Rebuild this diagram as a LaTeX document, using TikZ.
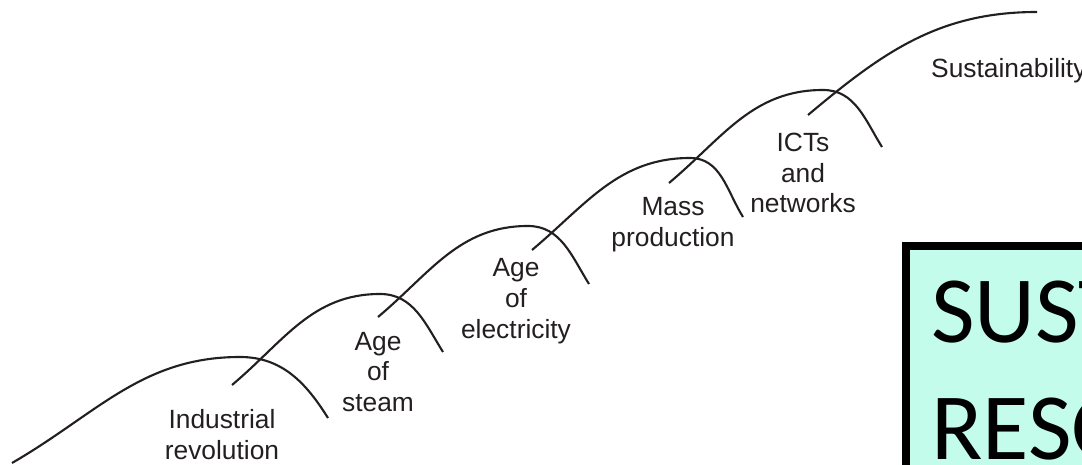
\documentclass[tikz,border=0pt]{standalone}
\usepackage{fontspec}
\setmainfont{Liberation Sans}
\newfontfamily\boxfont{Carlito}
\usepackage{tikz}
\usetikzlibrary{positioning,calc}
\definecolor{mint}{RGB}{196,252,236}
\definecolor{ink}{RGB}{35,31,32}

\begin{document}
\begin{tikzpicture}[x=0.02cm,y=0.02cm,
  wave/.style={line width=1.2pt,ink},
  era/.style={align=center,text=ink,font=\fontsize{15}{17.6}\selectfont},
  big/.style={anchor=base west,font=\boxfont\fontsize{54}{66}\selectfont}]
    \path[use as bounding box] (0,0) rectangle (1082,465);
    \clip (0,0) rectangle (1082,465);
    % start, peak and end of each wave
    \coordinate (S1) at (12,2);    \coordinate (P1) at (240,108); \coordinate (E1) at (328,47);
    \coordinate (S2) at (232,80);  \coordinate (P2) at (380,171); \coordinate (E2) at (443,113);
    \coordinate (S3) at (378,148); \coordinate (P3) at (528,239); \coordinate (E3) at (589,181);
    \coordinate (S4) at (532,215); \coordinate (P4) at (690,307); \coordinate (E4) at (743,248);
    \coordinate (S5) at (669,282); \coordinate (P5) at (823,375); \coordinate (E5) at (882,318);
    \coordinate (S6) at (808,350); \coordinate (P6) at (1037,453);
    \draw[wave] (S1) to[out=30,in=180] (P1) to[out=0,in=122] (E1);
    \foreach \i in {2,...,5}
      \draw[wave] (S\i) to[out=40,in=180] (P\i) to[out=0,in=122] (E\i);
    \draw[wave] (S6) to[out=40,in=180] (P6);
    % labels
    \node[era](A1) at (222,30) {Industrial\\revolution};
    \node[era](A2) at (378,93) {Age\\of\\steam};
    \node[era](A3) at (516,164) {Age\\of\\electricity};
    \node[era](A4) at (673,240) {Mass\\production};
    \node[era](A5) at (803,292) {ICTs\\and\\networks};
    \node[era,anchor=base west](A6) at (925,387) {Sustainability};
    % box
    \draw[line width=4.5pt,fill=mint] (906,-20) rectangle (1120,219);
    \node[big](B1) at (925,122) {SUST};
    \node[big](B2) at (925,5) {RESO};
\end{tikzpicture}
\end{document}
